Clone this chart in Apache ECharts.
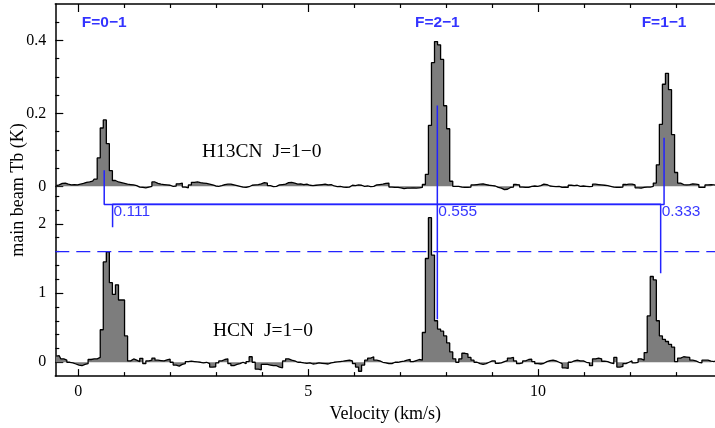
<!DOCTYPE html>
<html><head><meta charset="utf-8">
<script src="https://cdn.jsdelivr.net/npm/echarts@6/dist/echarts.min.js"></script>
<style>html,body{margin:0;padding:0;background:#fff}#main{width:715px;height:428px}</style>
</head><body><div id="main"></div>
<script>
// ---- channel grid (km/s) ----
const channelStart = -0.48075;   // centre of first channel
const channelWidth = 0.0661;

// ---- H13CN J=1-0 spectrum (K), one value per channel ----
const h13cnTb = [
 0.002,0.004,0.008,0.009,0.006,0.004,0.005,0.004,0.006,0.008,
 0.011,0.012,0.014,0.020,0.078,0.160,0.182,0.117,0.043,0.016,
 0.012,0.010,0.008,0.006,0.005,0.004,0.002,-0.002,-0.003,-0.004,
 -0.002,0.000,0.012,0.008,0.006,0.005,0.004,0.003,0.000,0.001,
 0.007,0.009,-0.002,-0.004,0.004,0.011,0.012,0.010,0.009,0.008,
 0.006,0.004,0.001,0.000,0.002,0.005,0.006,0.006,0.004,0.002,
 0.000,-0.002,-0.003,-0.001,0.003,0.004,0.005,0.007,0.010,0.009,
 0.002,-0.001,0.000,0.004,0.005,0.006,0.010,0.011,0.009,0.006,
 0.007,0.005,0.006,0.003,0.002,0.003,0.004,0.005,0.006,0.004,
 0.005,0.001,-0.001,0.000,-0.002,-0.003,-0.002,0.003,0.002,0.004,
 0.003,0.000,0.001,-0.001,0.000,0.004,0.005,0.006,0.008,0.009,
 -0.002,-0.003,-0.003,-0.004,-0.006,-0.005,-0.005,-0.004,-0.005,-0.004,
 -0.003,0.005,0.033,0.167,0.339,0.397,0.388,0.348,0.221,0.158,
 0.014,0.000,0.000,-0.002,-0.003,-0.003,-0.002,0.004,0.005,0.006,
 0.007,0.005,0.003,0.002,0.001,-0.003,-0.005,-0.009,-0.008,-0.003,
 -0.002,0.005,0.004,-0.002,-0.003,-0.003,0.000,0.001,0.000,0.002,
 0.006,0.005,0.001,0.000,-0.001,0.000,-0.003,-0.002,-0.003,0.003,
 0.002,0.003,0.000,0.001,0.000,-0.001,0.000,0.006,0.005,0.004,
 0.003,0.002,0.000,-0.002,-0.003,-0.003,-0.002,0.005,0.006,0.006,
 0.004,-0.004,-0.005,-0.003,-0.002,-0.002,0.000,0.009,0.059,0.170,
 0.280,0.310,0.265,0.142,0.038,0.009,0.005,0.004,0.005,0.007,
 0.006,0.005,-0.003,-0.003,0.004,0.005,0.004,0.003
];

// ---- HCN J=1-0 spectrum (K), one value per channel ----
const hcnTb = [
 0.090,0.095,0.050,0.030,0.000,-0.010,-0.025,-0.040,-0.050,-0.030,
 -0.020,0.040,0.050,0.050,0.070,0.470,1.450,1.596,1.150,0.980,
 1.120,0.900,0.900,0.380,0.020,0.048,0.030,0.010,0.057,-0.020,
 0.020,0.030,0.060,0.030,0.025,0.020,0.035,0.045,0.000,-0.040,
 -0.055,-0.030,-0.020,0.010,0.015,0.010,0.005,0.000,-0.010,0.000,
 -0.020,-0.070,-0.065,-0.010,0.020,0.040,0.050,-0.020,-0.050,-0.030,
 -0.020,0.000,-0.020,0.010,0.080,0.000,-0.100,-0.110,-0.030,-0.030,
 -0.040,-0.050,-0.050,-0.070,-0.080,0.020,0.050,0.030,0.020,0.000,
 0.000,-0.010,-0.015,-0.010,-0.025,-0.020,-0.010,-0.015,-0.020,-0.025,
 -0.010,0.000,0.005,0.010,0.015,0.025,0.030,0.020,-0.020,-0.070,
 -0.130,-0.040,0.030,0.060,0.080,0.030,0.020,0.000,-0.010,-0.020,
 -0.020,0.000,0.000,0.010,0.015,0.030,0.040,0.010,0.025,0.040,
 0.030,0.430,1.500,2.090,1.550,0.600,0.480,0.450,0.380,0.280,
 0.150,0.050,0.000,0.050,0.130,0.120,0.070,0.030,0.000,-0.020,
 -0.030,-0.020,0.000,0.020,0.020,-0.015,-0.010,0.010,0.025,0.060,
 0.070,0.020,-0.020,-0.010,0.020,0.040,0.045,0.010,-0.020,-0.025,
 -0.015,0.010,0.025,0.030,0.020,0.000,-0.020,-0.080,-0.090,0.000,
 0.020,0.030,0.020,0.020,0.000,-0.010,-0.050,0.050,0.060,0.050,
 0.015,0.010,-0.010,-0.020,0.070,-0.070,-0.060,-0.020,0.000,0.020,
 -0.010,0.000,0.050,0.030,0.140,0.670,1.240,1.190,0.600,0.380,
 0.330,0.300,0.260,0.220,0.010,0.060,0.080,0.075,0.070,0.030,
 0.020,0.000,-0.010,0.030,0.030,0.015,0.010,0.020
];

// ---- hyperfine components ----
const hfsLabels   = ['F=0\u22121', 'F=2\u22121', 'F=1\u22121'];
const hfsRelInt   = [0.111, 0.555, 0.333];
const h13cnHfsVel = [0.564, 7.81, 12.742];
const hcnHfsVel   = [0.746, 7.81, 12.668];
const hcnRefLevel = 1.6;          // dashed reference level (K)

// ---- axes ----
const xRange = [-0.5, 13.85];
const xMajor = [0, 5, 10];
const xMinor = [1, 2, 3, 4, 6, 7, 8, 9, 11, 12, 13];
const topRange = [-0.5203, 0.5];
const topMajor = [0, 0.2, 0.4];
const topMinor = [0.05, 0.1, 0.15, 0.25, 0.3, 0.35, 0.45];
const botRange = [-0.2, 5.1786];
const botMajor = [0, 1, 2];
const botMinor = [0.2, 0.4, 0.6, 0.8, 1.2, 1.4, 1.6, 1.8, 2.2, 2.4];

// stick geometry (in each spectrum's own units)
const h13cnStickBase = -0.05, h13cnStickScale = 0.4;
const hcnStickTop = 2.285, hcnStickScale = 3.0;

const vel = h13cnTb.map((_, i) => channelStart + i * channelWidth);

const serif = '"Liberation Serif", "Times New Roman", serif';
const sans = '"Liberation Sans", Arial, sans-serif';
const BLUE = '#2323ff';

function xAx(pos, ticks, len, line, labels, extra) {
  return Object.assign({
    type: 'value', gridIndex: 0, position: pos, min: xRange[0], max: xRange[1],
    axisLine: {show: line, onZero: false, lineStyle: {color: '#000', width: 1.5}},
    axisTick: {show: true, inside: true, length: len, customValues: ticks, lineStyle: {color: '#000', width: 1.2}},
    axisLabel: labels ? {show: true, customValues: ticks, margin: 8, color: '#000', fontFamily: serif, fontSize: 16} : {show: false},
    splitLine: {show: false}
  }, extra || {});
}
function yAx(range, ticks, len, line, labels, extra) {
  return Object.assign({
    type: 'value', gridIndex: 0, position: 'left', min: range[0], max: range[1],
    axisLine: {show: line, onZero: false, lineStyle: {color: '#000', width: 1.5}},
    axisTick: {show: true, inside: true, length: len, customValues: ticks, lineStyle: {color: '#000', width: 1.2}},
    axisLabel: labels ? {show: true, customValues: ticks, margin: 9, color: '#000', fontFamily: serif, fontSize: 16} : {show: false},
    splitLine: {show: false}
  }, extra || {});
}

const h13Sticks1 = [
  [h13cnHfsVel[0], h13cnStickScale * hfsRelInt[0]],
  [h13cnHfsVel[0], h13cnStickBase],
  [h13cnHfsVel[2], h13cnStickBase],
  [h13cnHfsVel[2], h13cnStickScale * hfsRelInt[2]]
];
const h13Sticks2 = [[h13cnHfsVel[1], h13cnStickBase], [h13cnHfsVel[1], h13cnStickScale * hfsRelInt[1]]];
const hcnSticks1 = [
  [hcnHfsVel[0], hcnStickTop - hcnStickScale * hfsRelInt[0]],
  [hcnHfsVel[0], hcnStickTop],
  [hcnHfsVel[2], hcnStickTop],
  [hcnHfsVel[2], hcnStickTop - hcnStickScale * hfsRelInt[2]]
];
const hcnSticks2 = [[hcnHfsVel[1], hcnStickTop], [hcnHfsVel[1], hcnStickTop - hcnStickScale * hfsRelInt[1]]];

const stickStyle = {color: BLUE, width: 1.5};
function stickSeries(data, yi) {
  return {type: 'line', xAxisIndex: 0, yAxisIndex: yi, data: data, symbol: 'none', silent: true,
    lineStyle: stickStyle, z: 5, animation: false};
}

const chart = echarts.init(document.getElementById('main'));
chart.setOption({
  animation: false,
  backgroundColor: '#fff',
  grid: {left: 55.3, top: 4, width: 661.5, height: 376.5, containLabel: false},
  xAxis: [
    xAx('bottom', xMajor, 7, true, true, {name: 'Velocity (km/s)', nameLocation: 'middle', nameGap: 24,
      nameTextStyle: {color: '#000', fontFamily: serif, fontSize: 18}}),
    xAx('bottom', xMinor, 4, false, false),
    xAx('top', xMajor, 8, true, false),
    xAx('top', xMinor, 4, false, false)
  ],
  yAxis: [
    yAx(topRange, topMajor, 8, true, true),
    yAx(topRange, topMinor, 4, false, false),
    yAx(botRange, botMajor, 8, false, true, {name: 'main beam Tb (K)', nameLocation: 'middle', nameGap: 28,
      nameTextStyle: {color: '#000', fontFamily: serif, fontSize: 18}}),
    yAx(botRange, botMinor, 4, false, false)
  ],
  series: [
    {type: 'line', name: 'H13CN', xAxisIndex: 0, yAxisIndex: 0, step: 'middle', symbol: 'none',
      data: vel.map((v, i) => [v, h13cnTb[i]]),
      lineStyle: {color: '#000', width: 1.3}, areaStyle: {color: '#7d7d7d', opacity: 1}, z: 2},
    {type: 'line', name: 'HCN', xAxisIndex: 0, yAxisIndex: 2, step: 'middle', symbol: 'none',
      data: vel.map((v, i) => [v, hcnTb[i]]),
      lineStyle: {color: '#000', width: 1.3}, areaStyle: {color: '#7d7d7d', opacity: 1}, z: 2},
    stickSeries(h13Sticks1, 0), stickSeries(h13Sticks2, 0),
    stickSeries(hcnSticks1, 2), stickSeries(hcnSticks2, 2),
    {type: 'line', xAxisIndex: 0, yAxisIndex: 2, symbol: 'none', silent: true, z: 5,
      data: [[xRange[0], hcnRefLevel], [xRange[1], hcnRefLevel]],
      lineStyle: {color: BLUE, width: 1.3, type: [14, 7]}},
    {type: 'scatter', xAxisIndex: 0, yAxisIndex: 0, symbolSize: 0, silent: true, z: 6,
      data: h13cnHfsVel.map((v, i) => ({value: [v, 0.448], name: hfsLabels[i]})),
      label: {show: true, position: 'inside', formatter: '{b}', color: '#0000ff',
        fontFamily: sans, fontWeight: 'bold', fontSize: 15.5}},
    {type: 'scatter', xAxisIndex: 0, yAxisIndex: 2, symbolSize: 0, silent: true, z: 6,
      data: hcnHfsVel.map((v, i) => ({value: [v, 2.174], name: hfsRelInt[i].toFixed(3)})),
      label: {show: true, position: 'right', distance: 1, formatter: '{b}', color: '#0000ff',
        fontFamily: sans, fontSize: 15.5}}
  ],
  graphic: [
    {type: 'text', x: 202, y: 152, silent: true,
      style: {text: 'H13CN  J=1\u22120', font: '19.5px "Liberation Serif"', fill: '#000', align: 'left', verticalAlign: 'middle'}},
    {type: 'text', x: 213, y: 331, silent: true,
      style: {text: 'HCN  J=1\u22120', font: '19.5px "Liberation Serif"', fill: '#000', align: 'left', verticalAlign: 'middle'}}
  ]
});
</script></body></html>
